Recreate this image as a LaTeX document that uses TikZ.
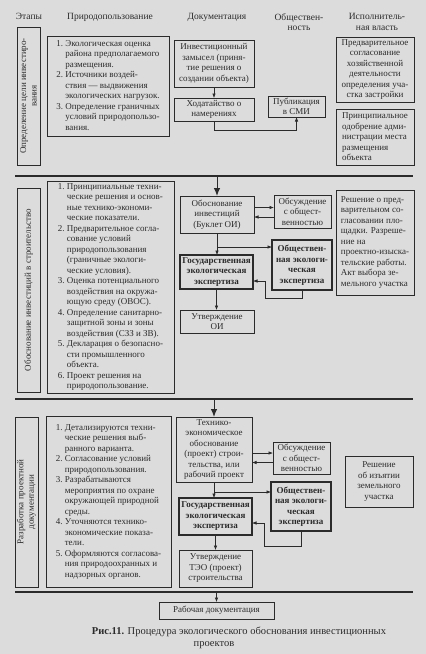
\documentclass[tikz,border=0pt]{standalone}
\usepackage{fontspec}
\setmainfont{Liberation Serif}
\usepackage{tikz}
\usetikzlibrary{arrows.meta}
\definecolor{paper}{HTML}{DCDCDC}
\definecolor{ink}{HTML}{2B2B2B}

\begin{document}
\begin{tikzpicture}[
        x=1pt, y=-1pt,
        font=\fontsize{9}{10.5}\selectfont,
        every node/.style={align=center, outer sep=0pt, text=ink},
        box/.style={rectangle, draw=ink, line width=0.6pt, inner xsep=2pt,
                    inner ysep=1pt, anchor=north west},
        boldbox/.style={box, line width=1.1pt,
                        font=\fontsize{9}{10.5}\selectfont\bfseries},
        stagebox/.style={rectangle, draw=ink, line width=0.6pt, anchor=north west},
        stagetxt/.style={rotate=90},
        hdr/.style={anchor=north, font=\fontsize{9.5}{10.5}\selectfont},
        sep/.style={draw=ink, line width=1.2pt},
        flow/.style={draw=ink, line width=0.6pt, -{Latex[length=4.5pt, width=3.5pt]}},
        bigflow/.style={draw=ink, line width=1pt, -{Latex[length=8pt, width=6.5pt]}},
        caption/.style={anchor=north, font=\fontsize{10.5}{13}\selectfont}
    ]
        \fill[paper] (0,0) rectangle (426,654);
        \useasboundingbox (0,0) rectangle (426,654);

        % --- Заголовки колонок ---
        \node[hdr] (hEt) at (29,10) {Этапы};
        \node[hdr] (hPr) at (110,10) {Природопользование};
        \node[hdr] (hDo) at (217,10) {Документация};
        \node[hdr] (hOb) at (299,10) {Обществен-\\ность};
        \node[hdr] (hIs) at (377,10) {Исполнитель-\\ная власть};

        % --- Этап 1: Определение цели инвестирования ---
        \node[stagebox, minimum width=23, minimum height=138] (st1) at (17,27) {};
        \node[stagetxt] at (st1.center) {Определение цели инвестиро-\\вания};
        \node[box, minimum width=122, minimum height=100] (np1) at (47,36)
            {\begin{tabular}{@{}r@{\ }l@{}}
             1. & Экологическая оценка\\
                & района предполагаемого\\
                & размещения.\\
             2. & Источники воздей-\\
                & ствия --- выдвижения\\
                & экологических нагрузок.\\
             3. & Определение граничных\\
                & условий природопользо-\\
                & вания.
             \end{tabular}};
        \node[box, minimum width=80, minimum height=47] (zam) at (174,40)
            {Инвестиционный\\замысел (приня-\\тие решения о\\создании объекта)};
        \node[box, minimum width=80, minimum height=23] (hod) at (174,98)
            {Ходатайство о\\намерениях};
        \node[box, minimum width=57, minimum height=21] (pub) at (268,96)
            {Публикация\\в СМИ};
        \node[box, minimum width=78, minimum height=65] (ex1) at (336,37)
            {Предварительное\\согласование\\хозяйственной\\деятельности\\определения уча-\\стка застройки};
        \node[box, minimum width=78, minimum height=56, align=left] (ex2) at (336,109)
            {Принципиальное\\одобрение адми-\\нистрации места\\размещения\\объекта};

        \draw[flow] (zam.south) -- (zam.south |- hod.north);
        \draw[flow] (hod.south) -- ++(0,9) -| (pub.south);

        \coordinate (sepA) at (15,176);
        \draw[sep] (sepA) -- ++(398,0);

        % --- Этап 2: Обоснование инвестиций ---
        \node[stagebox, minimum width=23, minimum height=204] (st2) at (17,188) {};
        \node[stagetxt] at (st2.center) {Обоснование инвестиций в строительство};
        \node[box, minimum width=127, minimum height=212] (np2) at (47,181)
            {\begin{tabular}{@{}r@{\ }l@{}}
             1. & Принципиальные техни-\\
                & ческие решения и основ-\\
                & ные технико-экономи-\\
                & ческие показатели.\\
             2. & Предварительное согла-\\
                & сование условий\\
                & природопользования\\
                & (граничные экологи-\\
                & ческие условия).\\
             3. & Оценка потенциального\\
                & воздействия на окружа-\\
                & ющую среду (ОВОС).\\
             4. & Определение санитарно-\\
                & защитной зоны и зоны\\
                & воздействия (СЗЗ и ЗВ).\\
             5. & Декларация о безопасно-\\
                & сти промышленного\\
                & объекта.\\
             6. & Проект решения на\\
                & природопользование.
             \end{tabular}};
        \node[box, minimum width=74, minimum height=37] (oi) at (180,196)
            {Обоснование\\инвестиций\\(Буклет ОИ)};
        \node[box, minimum width=57, minimum height=33] (ob1) at (274,195)
            {Обсуждение\\с общест-\\венностью};
        \node[boldbox, minimum width=73, minimum height=34] (ge1) at (180,255)
            {Государственная\\экологическая\\экспертиза};
        \node[boldbox, minimum width=60, minimum height=50] (oe1) at (272,240)
            {Обществен-\\ная экологи-\\ческая\\экспертиза};
        \node[box, minimum width=74, minimum height=23] (ut1) at (180,310)
            {Утверждение\\ОИ};
        \node[box, minimum width=78, minimum height=105, align=left] (ex3) at (336,190)
            {Решение о пред-\\варительном со-\\гласовании пло-\\щадки. Разреше-\\ние на\\проектно-изыска-\\тельские работы.\\Акт выбора зе-\\мельного участка};

        \draw[bigflow] (sepA -| oi.north) -- (oi.north);
        \draw[flow] ([yshift=7pt]oi.east) -- ([yshift=4pt]ob1.west);
        \draw[flow] ([yshift=-5.5pt]ob1.west) -- ([yshift=-2.5pt]oi.east);
        \draw[flow] (oi.south) -- (oi.south |- ge1.north);
        \coordinate (br1) at (217,247);
        \draw[flow] (br1) -- (br1 -| oe1.west);
        \coordinate (rt1) at (265,298);
        \draw[flow] (oe1.south) |- (rt1) |- ([yshift=-9pt]ge1.east);
        \draw[flow] (ge1.south) -- (ge1.south |- ut1.north);

        \coordinate (sepB) at (15,399);
        \draw[sep] (sepB) -- ++(398,0);

        % --- Этап 3: Разработка проектной документации ---
        \node[stagebox, minimum width=23, minimum height=170] (st3) at (15,417) {};
        \node[stagetxt] at (st3.center) {Разработка проектной\\документации};
        \node[box, minimum width=125, minimum height=171] (np3) at (46,416)
            {\begin{tabular}{@{}r@{\ }l@{}}
             1. & Детализируются техни-\\
                & ческие решения выб-\\
                & ранного варианта.\\
             2. & Согласование условий\\
                & природопользования.\\
             3. & Разрабатываются\\
                & мероприятия по охране\\
                & окружающей природной\\
                & среды.\\
             4. & Уточняются технико-\\
                & экономические показа-\\
                & тели.\\
             5. & Оформляются согласова-\\
                & ния природоохранных и\\
                & надзорных органов.
             \end{tabular}};
        \node[box, minimum width=76, minimum height=65] (teo) at (176,417)
            {Технико-\\экономическое\\обоснование\\(проект) строи-\\тельства, или\\рабочий проект};
        \node[box, minimum width=57, minimum height=32] (ob2) at (273,442)
            {Обсуждение\\с общест-\\венностью};
        \node[boldbox, minimum width=73, minimum height=37] (ge2) at (179,498)
            {Государственная\\экологическая\\экспертиза};
        \node[boldbox, minimum width=60, minimum height=49] (oe2) at (271,482)
            {Обществен-\\ная экологи-\\ческая\\экспертиза};
        \node[box, minimum width=73, minimum height=37] (ut2) at (179,550)
            {Утверждение\\ТЭО (проект)\\строительства};
        \node[box, minimum width=68, minimum height=51] (ex4) at (345,456)
            {Решение\\об изъятии\\земельного\\участка};

        \draw[bigflow] (sepB -| teo.north) -- (teo.north);
        \draw[flow] ([yshift=-3.5pt]teo.east) -- ([yshift=5pt]ob2.west);
        \draw[flow] ([yshift=-4.5pt]ob2.west) -- ([yshift=-13pt]teo.east);
        \draw[flow] (teo.south) -- (teo.south |- ge2.north);
        \coordinate (br2) at (214,492);
        \draw[flow] (br2) -- (br2 -| oe2.west);
        \coordinate (rt2) at (264,546);
        \draw[flow] (oe2.south) |- (rt2) |- ([yshift=-6.5pt]ge2.east);
        \draw[flow] (ge2.south) -- (ge2.south |- ut2.north);

        \coordinate (sepC) at (15,592);
        \draw[sep] (sepC) -- ++(398,0);

        % --- Итог ---
        \node[box, minimum width=115, minimum height=17] (rab) at (159,602)
            {Рабочая документация};
        \draw[flow] (sepC -| rab.north) -- (rab.north);

        \node[caption] (cap1) at (239,624)
            {\textbf{Рис.11.} Процедура экологического обоснования инвестиционных};
        \node[caption] (cap2) at (214,638) {проектов};
    \end{tikzpicture}
\end{document}
